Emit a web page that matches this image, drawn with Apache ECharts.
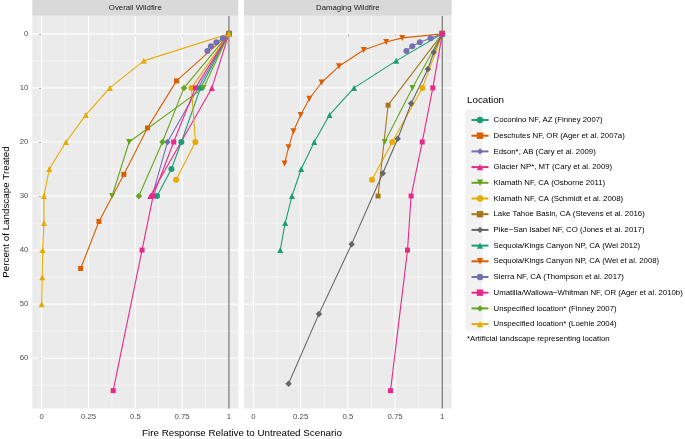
<!DOCTYPE html>
<html>
<head>
<meta charset="utf-8">
<script src="https://cdn.jsdelivr.net/npm/echarts@6/dist/echarts.min.js"></script>
<style>html,body{margin:0;padding:0;background:#fff}#c{width:685px;height:439px}</style>
</head>
<body>
<div id="c"></div>
<script>
// ---------------- DATA ----------------
const locations = [
  'Coconino NF, AZ (Finney 2007)',
  'Deschutes NF, OR (Ager et al. 2007a)',
  'Edson*, AB (Cary et al. 2009)',
  'Glacier NP*, MT (Cary et al. 2009)',
  'Klamath NF, CA (Osborne 2011)',
  'Klamath NF, CA (Schmidt et al. 2008)',
  'Lake Tahoe Basin, CA (Stevens et al. 2016)',
  'Pike\u2212San Isabel NF, CO (Jones et al. 2017)',
  'Sequoia/Kings Canyon NP, CA (Wei 2012)',
  'Sequoia/Kings Canyon NP, CA (Wei et al. 2008)',
  'Sierra NF, CA (Thompson et al. 2017)',
  'Umatilla/Wallowa\u2212Whitman NF, OR (Ager et al. 2010b)',
  'Unspecified location* (Finney 2007)',
  'Unspecified location* (Loehle 2004)'
];
const panelTitles = ['Overall Wildfire', 'Damaging Wildfire'];
const xTicks = [0, 0.25, 0.5, 0.75, 1];
const xMinor = [0.125, 0.375, 0.625, 0.875];
const yTicks = [0, 10, 20, 30, 40, 50, 60];
const yMinor = [5, 15, 25, 35, 45, 55, 65];
const untreatedRef = [1];

// Overall wildfire: [response, percent treated]
const coconinoOverall = [[1,0],[0.848,10],[0.746,20],[0.693,25],[0.616,30]];
const deschutesOverall = [[1,0],[0.72,8.7],[0.565,17.4],[0.439,26],[0.306,34.7],[0.208,43.4]];
const edsonOverall = [[1,0],[0.672,20],[0.59,30]];
const glacierOverall = [[1,0],[0.909,10],[0.58,30]];
const klamathOsborneOverall = [[1,0],[0.864,10],[0.467,20],[0.376,30]];
const klamathSchmidtOverall = [[1,0],[0.80,10],[0.821,20],[0.718,27]];
const sierraOverall = [[1,0],[0.968,0.83],[0.933,1.57],[0.904,2.31],[0.885,3.18]];
const umatillaOverall = [[1,0],[0.821,10],[0.705,20],[0.595,30],[0.536,40],[0.382,66]];
const finneyUnspecOverall = [[1,0],[0.76,10],[0.645,20],[0.519,30]];
const loehleOverall = [[1,0],[0.545,5],[0.364,10],[0.236,15],[0.13,20],[0.041,25],[0.012,30],[0.012,35],[0.005,40],[0.003,45],[0,50]];

// Damaging wildfire
const klamathOsborneDamaging = [[1,0],[0.842,10],[0.695,20]];
const klamathSchmidtDamaging = [[1,0],[0.895,10],[0.735,20],[0.628,27]];
const lakeTahoeDamaging = [[1,0],[0.713,13.2],[0.66,30]];
const pikeDamaging = [[1,0],[0.955,3.4],[0.924,6.5],[0.835,12.9],[0.764,19.4],[0.685,25.8],[0.52,38.9],[0.347,51.8],[0.186,64.7]];
const sequoia2012Damaging = [[1,0],[0.756,5],[0.533,10],[0.403,15],[0.322,20],[0.253,25],[0.204,30],[0.168,35],[0.142,40]];
const sequoia2008Damaging = [[1,0],[0.788,0.75],[0.703,1.5],[0.584,3],[0.453,6],[0.361,9],[0.296,12],[0.25,15],[0.212,18],[0.186,21],[0.165,24]];
const sierraDamaging = [[1,0],[0.938,0.83],[0.881,1.57],[0.841,2.31],[0.81,3.18]];
const umatillaDamaging = [[1,0],[0.95,10],[0.894,20],[0.835,30],[0.816,40],[0.726,66]];

// ---------------- STYLE ----------------
const palette = ['#1B9E77','#D95F02','#7570B3','#E7298A','#66A61E','#E6AB02','#A6761D','#666666'];
const shapes = ['circle','rect','diamond','triangle','triangle'];
const rotations = [0,0,0,0,180];
function styleOf(i){
  return {
    color: palette[i % 8],
    symbol: shapes[i % 5],
    rot: rotations[i % 5],
    size: (i % 5 === 2) ? 6.5 : (i % 5 === 1 ? 5 : 6)
  };
}
const FONT = 'Liberation Sans, Arial, Helvetica, sans-serif';

const panelData = [
  [[0,coconinoOverall],[1,deschutesOverall],[2,edsonOverall],[3,glacierOverall],[4,klamathOsborneOverall],
   [5,klamathSchmidtOverall],[10,sierraOverall],[11,umatillaOverall],[12,finneyUnspecOverall],[13,loehleOverall]],
  [[4,klamathOsborneDamaging],[5,klamathSchmidtDamaging],[6,lakeTahoeDamaging],[7,pikeDamaging],
   [8,sequoia2012Damaging],[9,sequoia2008Damaging],[10,sierraDamaging],[11,umatillaDamaging]]
];

const grids = [
  {left: 32.3, top: 16, width: 206, height: 392.5},
  {left: 244, top: 16, width: 207.7, height: 392.5}
];

// grid-line records: [value, orientation (0 = vertical at x, 1 = horizontal at y), width, colour index]
function gridLineData() {
  const d = [];
  xMinor.forEach(v => d.push([v, 0, 0.55, 0]));
  yMinor.forEach(v => d.push([v, 1, 0.55, 0]));
  xTicks.forEach(v => d.push([v, 0, 1.1, 0]));
  yTicks.forEach(v => d.push([v, 1, 1.1, 0]));
  untreatedRef.forEach(v => d.push([v, 0, 1.1, 1]));
  return d;
}
const lineColours = ['#FFFFFF', '#666666'];
function renderGridLine(params, api) {
  const cs = params.coordSys;
  const v = api.value(0), orient = api.value(1), w = api.value(2), c = api.value(3);
  let shape;
  if (orient === 0) {
    const px = api.coord([v, 0])[0];
    shape = {x1: px, y1: cs.y, x2: px, y2: cs.y + cs.height};
  } else {
    const py = api.coord([0, v])[1];
    shape = {x1: cs.x, y1: py, x2: cs.x + cs.width, y2: py};
  }
  return {type: 'line', shape: shape, style: {stroke: lineColours[c], lineWidth: w}, z2: c};
}

const series = [];
for (let p = 0; p < 2; p++) {
  series.push({
    type: 'custom', xAxisIndex: p, yAxisIndex: p, z: 1, silent: true,
    data: gridLineData(), renderItem: renderGridLine,
    dimensions: ['v', 'o', 'w', 'c'], encode: {x: -1, y: -1}
  });
  panelData[p].forEach(([idx, arr]) => {
    const s = styleOf(idx);
    series.push({
      name: locations[idx], type: 'line', xAxisIndex: p, yAxisIndex: p,
      data: arr, z: 5,
      symbol: s.symbol, symbolSize: s.size, symbolRotate: s.rot, showSymbol: true,
      lineStyle: {color: s.color, width: 1.1},
      itemStyle: {color: s.color, borderWidth: 0},
      emphasis: {disabled: true}
    });
  });
}

const xAxes = [0,1].map(p => ({
  type: 'value', gridIndex: p, min: -0.05, max: 1.05,
  axisLine: {show: false},
  splitLine: {show: false},
  axisTick: {show: true, length: 2.5, lineStyle: {color: '#333', width: 0.8}, customValues: xTicks},
  axisLabel: {customValues: xTicks, color: '#4D4D4D', fontSize: 7.8, fontFamily: FONT, margin: 4,
    formatter: v => String(v)}
}));
const yAxes = [0,1].map(p => ({
  type: 'value', gridIndex: p, min: -3.3, max: 69.3, inverse: true,
  axisLine: {show: false},
  splitLine: {show: false},
  axisTick: {show: p === 0, length: 2.5, lineStyle: {color: '#333', width: 0.8}, customValues: yTicks},
  axisLabel: {show: p === 0, customValues: yTicks, color: '#4D4D4D', fontSize: 7.8, fontFamily: FONT, margin: 4}
}));

const graphics = [];
grids.forEach((g, p) => {
  graphics.push({type: 'rect', z: 0, shape: {x: g.left, y: 0, width: g.width, height: 15.7}, style: {fill: '#D9D9D9'}});
  graphics.push({type: 'text', z: 1, x: g.left + g.width / 2, y: 8,
    style: {text: panelTitles[p], fill: '#1A1A1A', font: '7.8px ' + FONT, textAlign: 'center', textVerticalAlign: 'middle'}});
});
graphics.push({type: 'text', x: 242, y: 433,
  style: {text: 'Fire Response Relative to Untreated Scenario', fill: '#000', font: '9.8px ' + FONT, textAlign: 'center', textVerticalAlign: 'middle'}});
graphics.push({type: 'text', x: 6, y: 212, rotation: Math.PI / 2,
  style: {text: 'Percent of Landscape Treated', fill: '#000', font: '9.8px ' + FONT, textAlign: 'center', textVerticalAlign: 'middle'}});
graphics.push({type: 'text', x: 467, y: 100,
  style: {text: 'Location', fill: '#000', font: '9.8px ' + FONT, textAlign: 'left', textVerticalAlign: 'middle'}});
graphics.push({type: 'rect', z: -1, shape: {x: 465.5, y: 110, width: 17, height: 220.5}, style: {fill: '#F2F2F2'}});
graphics.push({type: 'text', x: 467, y: 339,
  style: {text: '*Artificial landscape representing location', fill: '#000', font: '7.8px ' + FONT, textAlign: 'left', textVerticalAlign: 'middle'}});

const option = {
  animation: false,
  backgroundColor: '#fff',
  grid: grids.map(g => ({...g, show: true, backgroundColor: '#EBEBEB', borderWidth: 0, containLabel: false})),
  xAxis: xAxes,
  yAxis: yAxes,
  legend: {
    data: locations, orient: 'vertical', left: 465.5, top: 111, z: 10,
    itemWidth: 17, itemHeight: 8, itemGap: 7.7,
    textStyle: {fontSize: 7.8, fontFamily: FONT, color: '#000'},
    selectedMode: false
  },
  graphic: graphics,
  series: series
};
const chart = echarts.init(document.getElementById('c'), null, {renderer: 'canvas'});
chart.setOption(option);
</script>
</body>
</html>
